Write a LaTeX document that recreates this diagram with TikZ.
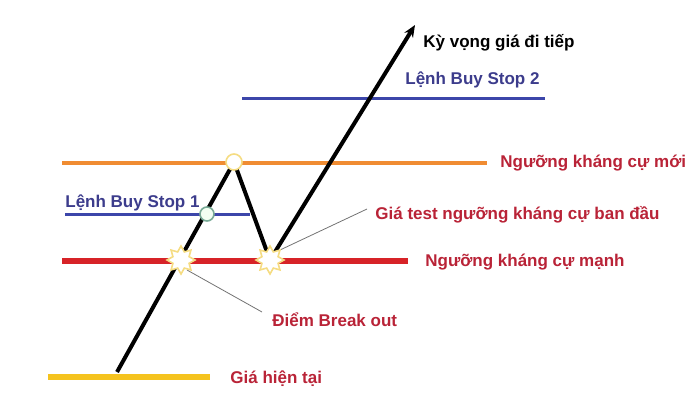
\documentclass[tikz,border=0pt]{standalone}
\usepackage{fontspec}
\setmainfont{Liberation Sans}
\usetikzlibrary{shapes.geometric,arrows.meta}
\definecolor{LvlYellow}{RGB}{245,195,30}
\definecolor{LvlRed}{RGB}{215,35,40}
\definecolor{LvlOrange}{RGB}{240,140,50}
\definecolor{LvlBlue}{RGB}{60,70,170}
\definecolor{TxtRed}{RGB}{185,35,55}
\definecolor{TxtBlue}{RGB}{60,60,140}
\definecolor{StarEdge}{RGB}{245,220,130}
\definecolor{DotGreen}{RGB}{120,170,150}
\tikzset{
  lvl/.style={line width=2.6pt},
  price/.style={draw=black,line width=2pt},
  redlab/.style={anchor=west,inner sep=0pt,text=TxtRed,font=\bfseries\fontsize{8.5}{10}\selectfont},
  bluelab/.style={anchor=west,inner sep=0pt,text=TxtBlue,font=\bfseries\fontsize{8.5}{10}\selectfont},
  note/.style={draw=black!55,line width=0.4pt},
}
\tikzset{burst/.style={star,star points=8,star point ratio=1.6,minimum size=14pt,inner sep=0pt,draw=StarEdge,fill=white,line width=0.8pt},
  knot/.style={circle,inner sep=0pt,minimum size=7pt,line width=0.8pt}}

\begin{document}
\begin{tikzpicture}[x=0.5pt,y=-0.5pt]
\useasboundingbox (0,0) rectangle (700,413);
\coordinate (pstart) at (117,372);
\coordinate (ppeak) at (234,162);
\coordinate (ptest) at (270,260);
\coordinate (ptip) at (415,25);
\coordinate (pbuy) at (207,214);
\coordinate (pbreak) at (181,260);
% muc gia
\draw[lvl,LvlYellow] (48,377) coordinate (y1) -- (210,377) coordinate (y2);
\draw[lvl,LvlRed,line width=2.8pt] (62,261) coordinate (r1) -- (408,261) coordinate (r2);
\draw[lvl,LvlOrange,line width=1.8pt] (62,163) coordinate (o1) -- (487,163) coordinate (o2);
\draw[lvl,LvlBlue,line width=1.5pt] (65,214) coordinate (b1) -- (250,214) coordinate (b2);
\draw[lvl,LvlBlue,line width=1.5pt] (242,98) coordinate (c1) -- (545,98) coordinate (c2);
% duong gia
\draw[price] (pstart)--(ppeak)--(ptest);
\draw[price,-{Stealth[length=6pt,width=5pt]}] (ptest)--(ptip);
% ghi chu
\node[redlab] (lcur) at (230,379) {Giá hiện tại};
\node[redlab] (lstrong) at (425,262) {Ngưỡng kháng cự mạnh};
\node[redlab] (lnew) at (500,163) {Ngưỡng kháng cự mới};
\node[redlab] (ltest) at (375,215) {Giá test ngưỡng kháng cự ban đầu};
\node[redlab] (lbreak) at (272,320) {Điểm Break out};
\node[bluelab] (lbs1) at (65,203) {Lệnh Buy Stop 1};
\node[bluelab] (lbs2) at (405,80) {Lệnh Buy Stop 2};
\node[anchor=west,inner sep=0pt,font=\bfseries\fontsize{8.5}{10}\selectfont] (lexp) at (423,43) {Kỳ vọng giá đi tiếp};
\draw[note] (ptest) ++(10,-10) -- ([xshift=-4pt,yshift=3pt]ltest.west);
\draw[note] (pbreak) ++(6,10) -- ([xshift=-5pt,yshift=4pt]lbreak.west);
% diem
\node[burst] (sbreak) at (pbreak) {};
\node[burst] (stest) at (ptest) {};
\node[knot,draw=StarEdge,fill=white,minimum size=8pt] (kpeak) at (ppeak) {};
\node[knot,draw=DotGreen,fill=green!5] (kbuy) at (pbuy) {};
\end{tikzpicture}
\end{document}
